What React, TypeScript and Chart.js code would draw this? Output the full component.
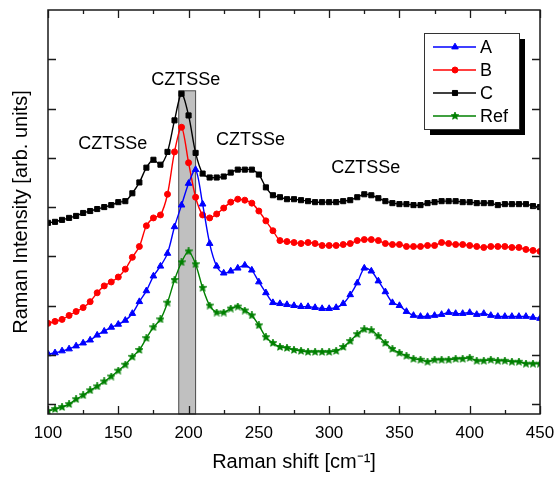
import React, { useEffect, useRef } from "react";
import { Chart, registerables } from "chart.js";
import { drawPoint } from "chart.js/helpers";

Chart.register(...registerables);

// Raman shift (cm-1)
const ramanShift = [
  100, 105, 110, 115, 120, 125, 130, 135, 140, 145, 150, 155, 160, 165, 170, 175, 180, 185, 190, 195,
  200, 205, 210, 215, 220, 225, 230, 235, 240, 245, 250, 255, 260, 265, 270, 275, 280, 285, 290, 295,
  300, 305, 310, 315, 320, 325, 330, 335, 340, 345, 350, 355, 360, 365, 370, 375, 380, 385, 390, 395,
  400, 405, 410, 415, 420, 425, 430, 435, 440, 445, 450,
];

// Intensities (arb. units, offset curves)
const seriesA = [
  51, 52, 54, 56, 59, 62, 65, 70, 74, 78, 81, 85, 92, 104, 115, 130, 140, 153, 180, 202,
  224, 238, 203, 163, 140, 133, 135, 138, 141, 136, 124, 113, 103, 102, 101, 100, 99, 99, 98, 97,
  97, 98, 102, 111, 123, 138, 135, 125, 114, 103, 100, 94, 90, 89, 89, 90, 91, 93, 92, 92,
  93, 91, 92, 90, 89, 89, 89, 89, 89, 88, 87,
];
const seriesB = [
  82, 84, 86, 90, 94, 98, 104, 113, 120, 124, 129, 137, 149, 160, 181, 189, 192, 213, 256, 281,
  245, 210, 192, 189, 193, 199, 205, 208, 207, 204, 196, 186, 176, 166, 165, 164, 163, 164, 163, 161,
  161, 161, 162, 163, 166, 167, 167, 166, 163, 162, 162, 160, 160, 160, 161, 161, 164, 163, 162, 162,
  161, 160, 159, 160, 160, 160, 159, 159, 157, 156, 155,
];
const seriesC = [
  184, 185, 187, 189, 191, 194, 196, 198, 200, 202, 205, 206, 214, 225, 240, 248, 243, 256, 288, 315,
  293, 255, 234, 230, 230, 231, 235, 238, 238, 238, 233, 220, 212, 210, 208, 208, 207, 206, 205, 205,
  205, 205, 206, 207, 210, 213, 212, 209, 206, 204, 203, 203, 202, 202, 204, 205, 206, 206, 206, 205,
  205, 204, 204, 204, 202, 203, 203, 203, 203, 201, 200,
];
const seriesRef = [
  -7, -5, -3, 0, 5, 9, 14, 18, 23, 28, 34, 40, 48, 55, 67, 78, 86, 103, 126, 144,
  155, 142, 118, 100, 93, 93, 97, 99, 95, 90, 80, 68, 62, 58, 57, 55, 54, 53, 53, 53,
  53, 54, 58, 64, 71, 76, 75, 69, 62, 56, 52, 49, 46, 45, 43, 45, 45, 45, 46, 46,
  47, 44, 44, 45, 44, 44, 43, 43, 41, 41, 41,
];

const seriesNames = ["A", "B", "C", "Ref"];
const seriesColors = ["#0000ff", "#ff0000", "#000000", "#008000"];

const xMajorTicks = [100, 150, 200, 250, 300, 350, 400, 450];
const yTicks = [0, 50, 100, 150, 200, 250, 300, 350];

// shaded region (cm-1) and its top (intensity)
const bandRange = [193, 205];
const bandTop = 318;

// peak annotations (data coordinates)
const peakLabelText = ["CZTSSe", "CZTSSe", "CZTSSe", "CZTSSe"];
const peakLabelX = [146, 198, 244, 326];
const peakLabelY = [264, 329, 268, 240];

const FONT = "'Liberation Sans', Arial, Helvetica, sans-serif";

function makeStar(color: string, size: number) {
  const c = document.createElement("canvas");
  c.width = size;
  c.height = size;
  const g = c.getContext("2d")!;
  const cx = size / 2, cy = size / 2, R = size / 2, r = R * 0.45;
  g.beginPath();
  for (let i = 0; i < 10; i++) {
    const rad = i % 2 === 0 ? R : r;
    const a = -Math.PI / 2 + (i * Math.PI) / 5;
    const px = cx + rad * Math.cos(a), py = cy + rad * Math.sin(a);
    if (i === 0) g.moveTo(px, py);
    else g.lineTo(px, py);
  }
  g.closePath();
  g.fillStyle = color;
  g.fill();
  g.strokeStyle = color;
  g.lineWidth = 0.8;
  g.stroke();
  return c;
}

export default function App() {
  const ref = useRef<HTMLCanvasElement | null>(null);

  useEffect(() => {
    const canvas = ref.current;
    if (!canvas) return;
    const star = makeStar(seriesColors[3], 8);
    const starLegend = makeStar(seriesColors[3], 8);

    const styles: any[] = [
      { pointStyle: "triangle", radius: 3.8 },
      { pointStyle: "circle", radius: 3 },
      { pointStyle: "rect", radius: 3.6 },
      { pointStyle: star, radius: 4 },
    ];
    const allSeries = [seriesA, seriesB, seriesC, seriesRef];

    const datasets = allSeries.map((s, i) => ({
      label: seriesNames[i],
      data: s.map((v, k) => ({ x: ramanShift[k], y: v })),
      borderColor: seriesColors[i],
      backgroundColor: seriesColors[i],
      borderWidth: 1.4,
      pointStyle: styles[i].pointStyle,
      pointRadius: styles[i].radius,
      pointBorderWidth: 1,
      pointBorderColor: seriesColors[i],
      pointBackgroundColor: seriesColors[i],
      tension: 0.3,
      fill: false,
    }));

    const decorPlugin = {
      id: "decor",
      beforeDatasetsDraw(chart: any) {
        const { ctx, chartArea, scales } = chart;
        const x = scales.x, y = scales.y;
        const x0 = x.getPixelForValue(bandRange[0]);
        const x1 = x.getPixelForValue(bandRange[1]);
        const yt = y.getPixelForValue(bandTop);
        ctx.save();
        ctx.fillStyle = "#c0c0c0";
        ctx.fillRect(x0, yt, x1 - x0, chartArea.bottom - yt);
        ctx.strokeStyle = "#4a4a4a";
        ctx.lineWidth = 1;
        ctx.strokeRect(x0, yt, x1 - x0, chartArea.bottom - yt);
        ctx.restore();
      },
      afterDatasetsDraw(chart: any) {
        const { ctx, chartArea, scales } = chart;
        const { left, right, top, bottom } = chartArea;
        const x = scales.x, y = scales.y;
        ctx.save();
        ctx.strokeStyle = "#1a1a1a";
        ctx.lineWidth = 1.5;
        ctx.strokeRect(left, top, right - left, bottom - top);
        // x ticks (inward), major + minor, bottom and top
        ctx.lineWidth = 1.3;
        ctx.beginPath();
        xMajorTicks.forEach((v, i) => {
          const px = Math.round(x.getPixelForValue(v)) + 0.5;
          ctx.moveTo(px, bottom);
          ctx.lineTo(px, bottom - 8);
          ctx.moveTo(px, top);
          ctx.lineTo(px, top + 8);
          if (i < xMajorTicks.length - 1) {
            const m = (v + xMajorTicks[i + 1]) / 2;
            const pm = Math.round(x.getPixelForValue(m)) + 0.5;
            ctx.moveTo(pm, bottom);
            ctx.lineTo(pm, bottom - 4);
            ctx.moveTo(pm, top);
            ctx.lineTo(pm, top + 4);
          }
        });
        yTicks.forEach((v) => {
          const py = Math.round(y.getPixelForValue(v)) + 0.5;
          ctx.moveTo(left, py);
          ctx.lineTo(left + 8, py);
          ctx.moveTo(right, py);
          ctx.lineTo(right - 8, py);
        });
        ctx.stroke();

        // annotations
        ctx.fillStyle = "#000";
        ctx.font = `18px ${FONT}`;
        ctx.textAlign = "center";
        ctx.textBaseline = "middle";
        peakLabelText.forEach((t, i) => {
          ctx.fillText(t, x.getPixelForValue(peakLabelX[i]), y.getPixelForValue(peakLabelY[i]));
        });

        // legend box with shadow
        const bx = 424, by = 33, bw = 95, bh = 96, sh = 6;
        ctx.fillStyle = "#000";
        ctx.fillRect(bx + sh, by + sh, bw, bh);
        ctx.fillStyle = "#fff";
        ctx.fillRect(bx, by, bw, bh);
        ctx.strokeStyle = "#333";
        ctx.lineWidth = 1;
        ctx.strokeRect(bx + 0.5, by + 0.5, bw, bh);
        ctx.font = `18px ${FONT}`;
        ctx.textAlign = "left";
        ctx.textBaseline = "middle";
        chart.data.datasets.forEach((ds: any, i: number) => {
          const ry = by + 14 + i * 23;
          ctx.strokeStyle = ds.borderColor;
          ctx.lineWidth = 1.4;
          ctx.beginPath();
          ctx.moveTo(bx + 9, ry);
          ctx.lineTo(bx + 52, ry);
          ctx.stroke();
          ctx.fillStyle = ds.borderColor;
          ctx.strokeStyle = ds.borderColor;
          ctx.lineWidth = 1;
          const ps = i === 3 ? starLegend : ds.pointStyle;
          drawPoint(ctx, { pointStyle: ps, radius: ds.pointRadius, rotation: 0, borderWidth: 1 }, bx + 31, ry);
          ctx.fillStyle = "#000";
          ctx.fillText(ds.label, bx + 56, ry + 1);
        });
        ctx.restore();
      },
    };

    const chart = new Chart(canvas, {
      type: "line",
      data: { datasets },
      options: {
        responsive: false,
        animation: false,
        devicePixelRatio: 1,
        layout: { padding: { left: 0, right: 16, top: 10, bottom: 0 } },
        plugins: { legend: { display: false }, tooltip: { enabled: false } },
        scales: {
          x: {
            type: "linear",
            min: 100,
            max: 450,
            afterFit: (s: any) => {
              s.height = 65;
              s.paddingLeft = 0;
              s.paddingRight = 0;
            },
            grid: { display: false, drawTicks: false },
            border: { display: false },
            ticks: {
              stepSize: 50,
              padding: 9,
              color: "#000",
              font: { size: 17, family: FONT },
              maxRotation: 0,
            },
            title: {
              display: true,
              text: "Raman shift [cm\u207B\u00B9]",
              color: "#000",
              font: { size: 20, family: FONT },
              padding: { top: 0, bottom: 5 },
            },
          },
          y: {
            type: "linear",
            min: -10,
            max: 400,
            afterFit: (s: any) => {
              s.width = 48;
              s.paddingTop = 0;
              s.paddingBottom = 0;
            },
            grid: { display: false, drawTicks: false },
            border: { display: false },
            ticks: { display: false, stepSize: 50 },
            title: {
              display: true,
              text: "Raman Intensity [arb. units]",
              color: "#000",
              font: { size: 20, family: FONT },
              padding: { top: 9, bottom: 0 },
            },
          },
        },
      },
      plugins: [decorPlugin],
    });
    return () => chart.destroy();
  }, []);

  return (
    <div style={{ position: "absolute", left: 0, top: 0, width: 556, height: 479, background: "#fff" }}>
      <canvas ref={ref} width={556} height={479} style={{ display: "block" }} />
    </div>
  );
}
